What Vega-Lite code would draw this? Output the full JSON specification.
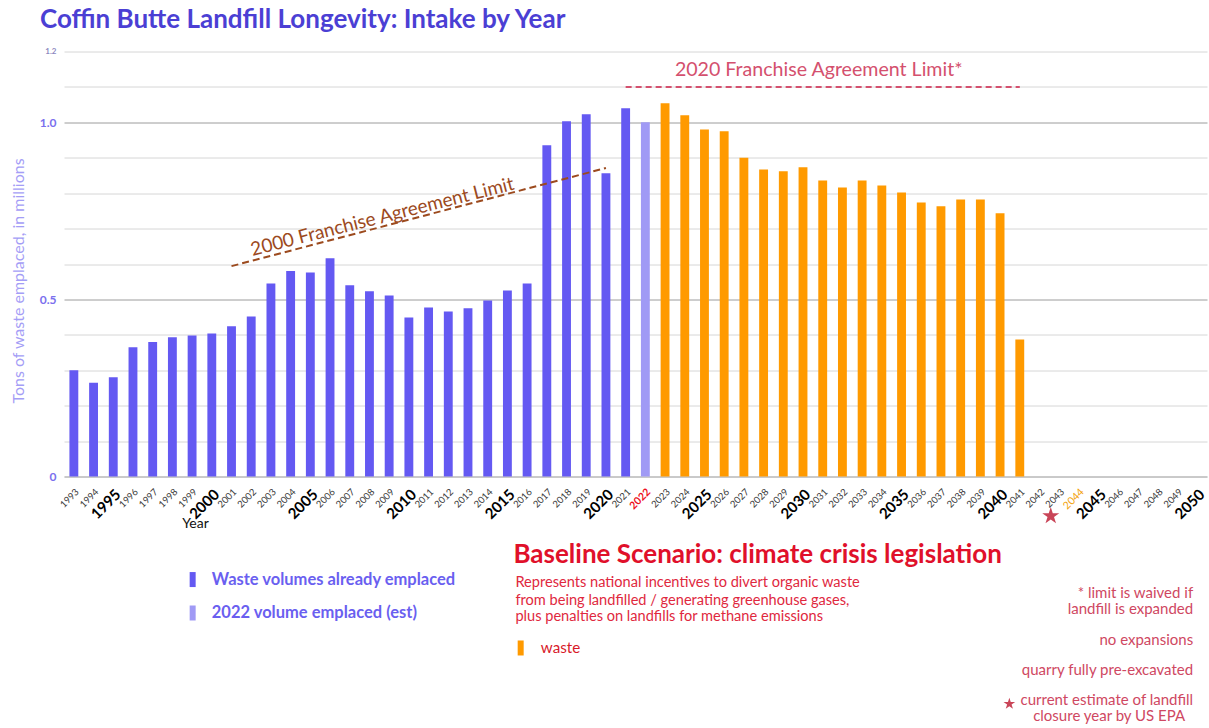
{
  "$schema": "https://vega.github.io/schema/vega-lite/v6.json",
  "width": 1143,
  "height": 425,
  "autosize": {"type": "none"},
  "padding": {"left": 64, "top": 51.5, "right": 2, "bottom": 251.5},
  "background": "white",
  "config": {"font": "Lato", "view": {"stroke": null}},
  "title": {
    "text": "Coffin Butte Landfill Longevity: Intake by Year",
    "anchor": "start",
    "frame": "group",
    "dx": -24,
    "offset": 15,
    "fontSize": 26,
    "fontWeight": "bold",
    "font": "Lato",
    "color": "#4b3fd4"
  },
  "datasets": {
    "bars": [
      {"year": 1993, "value": 0.300, "series": "emplaced"},
      {"year": 1994, "value": 0.265, "series": "emplaced"},
      {"year": 1995, "value": 0.280, "series": "emplaced"},
      {"year": 1996, "value": 0.365, "series": "emplaced"},
      {"year": 1997, "value": 0.380, "series": "emplaced"},
      {"year": 1998, "value": 0.393, "series": "emplaced"},
      {"year": 1999, "value": 0.398, "series": "emplaced"},
      {"year": 2000, "value": 0.404, "series": "emplaced"},
      {"year": 2001, "value": 0.424, "series": "emplaced"},
      {"year": 2002, "value": 0.452, "series": "emplaced"},
      {"year": 2003, "value": 0.545, "series": "emplaced"},
      {"year": 2004, "value": 0.580, "series": "emplaced"},
      {"year": 2005, "value": 0.576, "series": "emplaced"},
      {"year": 2006, "value": 0.616, "series": "emplaced"},
      {"year": 2007, "value": 0.540, "series": "emplaced"},
      {"year": 2008, "value": 0.523, "series": "emplaced"},
      {"year": 2009, "value": 0.511, "series": "emplaced"},
      {"year": 2010, "value": 0.449, "series": "emplaced"},
      {"year": 2011, "value": 0.477, "series": "emplaced"},
      {"year": 2012, "value": 0.466, "series": "emplaced"},
      {"year": 2013, "value": 0.475, "series": "emplaced"},
      {"year": 2014, "value": 0.497, "series": "emplaced"},
      {"year": 2015, "value": 0.525, "series": "emplaced"},
      {"year": 2016, "value": 0.545, "series": "emplaced"},
      {"year": 2017, "value": 0.935, "series": "emplaced"},
      {"year": 2018, "value": 1.003, "series": "emplaced"},
      {"year": 2019, "value": 1.023, "series": "emplaced"},
      {"year": 2020, "value": 0.856, "series": "emplaced"},
      {"year": 2021, "value": 1.040, "series": "emplaced"},
      {"year": 2022, "value": 1.000, "series": "estimate"},
      {"year": 2023, "value": 1.054, "series": "waste"},
      {"year": 2024, "value": 1.020, "series": "waste"},
      {"year": 2025, "value": 0.980, "series": "waste"},
      {"year": 2026, "value": 0.975, "series": "waste"},
      {"year": 2027, "value": 0.900, "series": "waste"},
      {"year": 2028, "value": 0.867, "series": "waste"},
      {"year": 2029, "value": 0.862, "series": "waste"},
      {"year": 2030, "value": 0.873, "series": "waste"},
      {"year": 2031, "value": 0.836, "series": "waste"},
      {"year": 2032, "value": 0.816, "series": "waste"},
      {"year": 2033, "value": 0.836, "series": "waste"},
      {"year": 2034, "value": 0.822, "series": "waste"},
      {"year": 2035, "value": 0.802, "series": "waste"},
      {"year": 2036, "value": 0.774, "series": "waste"},
      {"year": 2037, "value": 0.763, "series": "waste"},
      {"year": 2038, "value": 0.782, "series": "waste"},
      {"year": 2039, "value": 0.782, "series": "waste"},
      {"year": 2040, "value": 0.743, "series": "waste"},
      {"year": 2041, "value": 0.387, "series": "waste"}
    ],
    "limit2000": [
      {"year": 2001, "value": 0.594},
      {"year": 2020, "value": 0.871}
    ],
    "limit2020": [
      {"year": 2021, "value": 1.1},
      {"year": 2041, "value": 1.1}
    ],
    "limit2000Label": [{"year": 2009, "value": 0.738, "label": "2000 Franchise Agreement Limit"}],
    "limit2020Label": [{"year": 2031, "value": 1.148, "label": "2020 Franchise Agreement Limit*"}],
    "epaStar": [{"year": 2043, "value": -0.1115}],
    "noteStar": [{"year": 2041, "value": -0.642}],
    "legendKeysBlue": [
      {"year": 1999, "value": -0.291, "series": "emplaced"},
      {"year": 1999, "value": -0.3854, "series": "estimate"}
    ],
    "legendKeyOrange": [{"year": 2016, "value": -0.4842, "series": "waste"}],
    "legendTextBlue": [
      {"year": 2000, "value": -0.291, "label": "Waste volumes already emplaced"},
      {"year": 2000, "value": -0.3854, "label": "2022 volume emplaced (est)"}
    ],
    "legendTextWaste": [{"year": 2017, "value": -0.4842, "label": "waste"}],
    "scenarioTitle": [{"year": 2015, "value": -0.2216, "label": "Baseline Scenario: climate crisis legislation"}],
    "scenarioDesc": [
      {"year": 2015, "value": -0.3007, "label": "Represents national incentives to divert organic waste"},
      {"year": 2015, "value": -0.3515, "label": "from being landfilled / generating greenhouse gases,"},
      {"year": 2015, "value": -0.3967, "label": "plus penalties on landfills for methane emissions"}
    ],
    "notes": [
      {"year": 2050, "value": -0.3289, "label": "* limit is waived if"},
      {"year": 2050, "value": -0.3741, "label": "landfill is expanded"},
      {"year": 2050, "value": -0.4617, "label": "no expansions"},
      {"year": 2050, "value": -0.5464, "label": "quarry fully pre-excavated"},
      {"year": 2050, "value": -0.6311, "label": "current estimate of landfill"}
    ],
    "notesLast": [{"year": 2050, "value": -0.6763, "label": "closure year by US EPA"}]
  },
  "encoding": {
    "x": {
      "field": "year",
      "type": "ordinal",
      "scale": {
        "type": "band",
        "domain": [1993,1994,1995,1996,1997,1998,1999,2000,2001,2002,2003,2004,2005,2006,2007,2008,2009,2010,2011,2012,2013,2014,2015,2016,2017,2018,2019,2020,2021,2022,2023,2024,2025,2026,2027,2028,2029,2030,2031,2032,2033,2034,2035,2036,2037,2038,2039,2040,2041,2042,2043,2044,2045,2046,2047,2048,2049,2050],
        "paddingInner": 0.55,
        "paddingOuter": 0.275
      },
      "axis": {
        "title": "Year",
        "titleFontSize": 14,
        "titleFontWeight": "normal",
        "titleColor": "#111111",
        "titleX": 131,
        "titleY": 47,
        "titleAlign": "center",
        "titleBaseline": "middle",
        "labelAngle": 315,
        "labelPadding": 10,
        "labelOverlap": false,
        "ticks": false,
        "domain": true,
        "domainColor": "#a8a8a8",
        "grid": false,
        "labelColor": {
          "condition": {"test": "datum.value == 2022 || datum.value == 2044", "expr": "datum.value == 2022 ? '#ee1020' : '#f2a20a'"},
          "expr": "datum.value % 5 == 0 ? '#000000' : '#3a3a3a'"
        },
        "labelFontSize": {
          "condition": {"test": "datum.value % 5 == 0", "value": 15},
          "expr": "(datum.value == 2022 || datum.value == 2044) ? 10.5 : 9.5"
        },
        "labelFontWeight": {
          "condition": {"test": "datum.value % 5 == 0 || datum.value == 2022", "value": "bold"},
          "value": "normal"
        }
      }
    },
    "y": {
      "field": "value",
      "type": "quantitative",
      "scale": {"domain": [0, 1.2], "nice": false, "zero": true},
      "axis": {
        "values": [0, 0.1, 0.2, 0.3, 0.4, 0.5, 0.6, 0.7, 0.8, 0.9, 1, 1.1, 1.2],
        "labelExpr": "datum.value == 0 ? '0' : (datum.value == 0.5 || datum.value == 1 || datum.value == 1.2) ? format(datum.value, '.1f') : ''",
        "grid": true,
        "gridColor": {
          "condition": {"test": "datum.value == 0.5 || datum.value == 1", "value": "#9c9c9c"},
          "value": "#d6d6d6"
        },
        "domain": false,
        "ticks": false,
        "labelPadding": 8,
        "labelColor": {
          "condition": {"test": "datum.value == 1.2", "value": "#8c88c0"},
          "value": "#7a70ee"
        },
        "labelFontWeight": "bold",
        "labelFontSize": {
          "condition": {"test": "datum.value == 1.2", "value": 8},
          "value": 12
        },
        "title": "Tons of waste emplaced, in millions",
        "titleColor": "#a49df6",
        "titleFontWeight": "normal",
        "titleFontSize": 16,
        "titleX": -46,
        "titleY": 229,
        "titleAngle": -90,
        "titleAlign": "center",
        "titleBaseline": "middle"
      }
    }
  },
  "layer": [
    {
      "data": {"name": "bars"},
      "mark": {"type": "bar"},
      "encoding": {
        "color": {
          "field": "series",
          "type": "nominal",
          "scale": {"domain": ["emplaced", "estimate", "waste"], "range": ["#6459f2", "#a09af5", "#ff9a00"]},
          "legend": null
        }
      }
    },
    {
      "data": {"name": "limit2000"},
      "mark": {"type": "line", "color": "#9c4a1e", "strokeDash": [7, 4], "strokeWidth": 2},
      "encoding": {}
    },
    {
      "data": {"name": "limit2020"},
      "mark": {"type": "line", "color": "#d4506e", "strokeDash": [6, 4], "strokeWidth": 2},
      "encoding": {}
    },
    {
      "data": {"name": "limit2000Label"},
      "mark": {"type": "text", "color": "#9c4a1e", "fontSize": 19, "angle": 345.8, "align": "center", "baseline": "middle", "dx": -7},
      "encoding": {"text": {"field": "label"}}
    },
    {
      "data": {"name": "limit2020Label"},
      "mark": {"type": "text", "color": "#d4506e", "fontSize": 19.6, "align": "center", "baseline": "middle", "dx": -4},
      "encoding": {"text": {"field": "label"}}
    },
    {
      "data": {"name": "epaStar"},
      "mark": {"type": "point", "filled": true, "color": "#c94558", "opacity": 1, "size": 320, "shape": "M0,-1L0.2245,-0.309L0.9511,-0.309L0.3633,0.118L0.5878,0.809L0,0.382L-0.5878,0.809L-0.3633,0.118L-0.9511,-0.309L-0.2245,-0.309Z", "clip": false},
      "encoding": {"xOffset": {"value": -4}}
    },
    {
      "data": {"name": "noteStar"},
      "mark": {"type": "point", "filled": true, "color": "#c94558", "opacity": 1, "size": 150, "shape": "M0,-1L0.2245,-0.309L0.9511,-0.309L0.3633,0.118L0.5878,0.809L0,0.382L-0.5878,0.809L-0.3633,0.118L-0.9511,-0.309L-0.2245,-0.309Z"},
      "encoding": {"xOffset": {"value": -6}}
    },
    {
      "data": {"name": "legendKeysBlue"},
      "mark": {"type": "point", "filled": true, "opacity": 1, "size": 225, "shape": "M-0.4,-1L0.4,-1L0.4,1L-0.4,1Z"},
      "encoding": {
        "xOffset": {"value": 5},
        "color": {"field": "series", "type": "nominal", "legend": null}
      }
    },
    {
      "data": {"name": "legendKeyOrange"},
      "mark": {"type": "point", "filled": true, "opacity": 1, "size": 225, "shape": "M-0.4,-1L0.4,-1L0.4,1L-0.4,1Z"},
      "encoding": {
        "xOffset": {"value": -2},
        "color": {"field": "series", "type": "nominal", "legend": null}
      }
    },
    {
      "data": {"name": "legendTextBlue"},
      "mark": {"type": "text", "color": "#6a5ff0", "fontSize": 16.5, "fontWeight": "bold", "align": "left", "baseline": "middle", "dx": 0},
      "encoding": {"text": {"field": "label"}}
    },
    {
      "data": {"name": "legendTextWaste"},
      "mark": {"type": "text", "color": "#d81a2a", "fontSize": 15.2, "align": "left", "baseline": "middle", "dx": -6},
      "encoding": {"text": {"field": "label"}}
    },
    {
      "data": {"name": "scenarioTitle"},
      "mark": {"type": "text", "color": "#e0102a", "fontSize": 26, "fontWeight": "bold", "align": "left", "baseline": "middle", "dx": 6},
      "encoding": {"text": {"field": "label"}}
    },
    {
      "data": {"name": "scenarioDesc"},
      "mark": {"type": "text", "color": "#e0283e", "fontSize": 14.6, "align": "left", "baseline": "middle", "dx": 8},
      "encoding": {"text": {"field": "label"}}
    },
    {
      "data": {"name": "notes"},
      "mark": {"type": "text", "color": "#cf4862", "fontSize": 15, "align": "right", "baseline": "middle", "dx": -4},
      "encoding": {"text": {"field": "label"}}
    },
    {
      "data": {"name": "notesLast"},
      "mark": {"type": "text", "color": "#cf4862", "fontSize": 15, "align": "right", "baseline": "middle", "dx": -12},
      "encoding": {"text": {"field": "label"}}
    }
  ]
}
